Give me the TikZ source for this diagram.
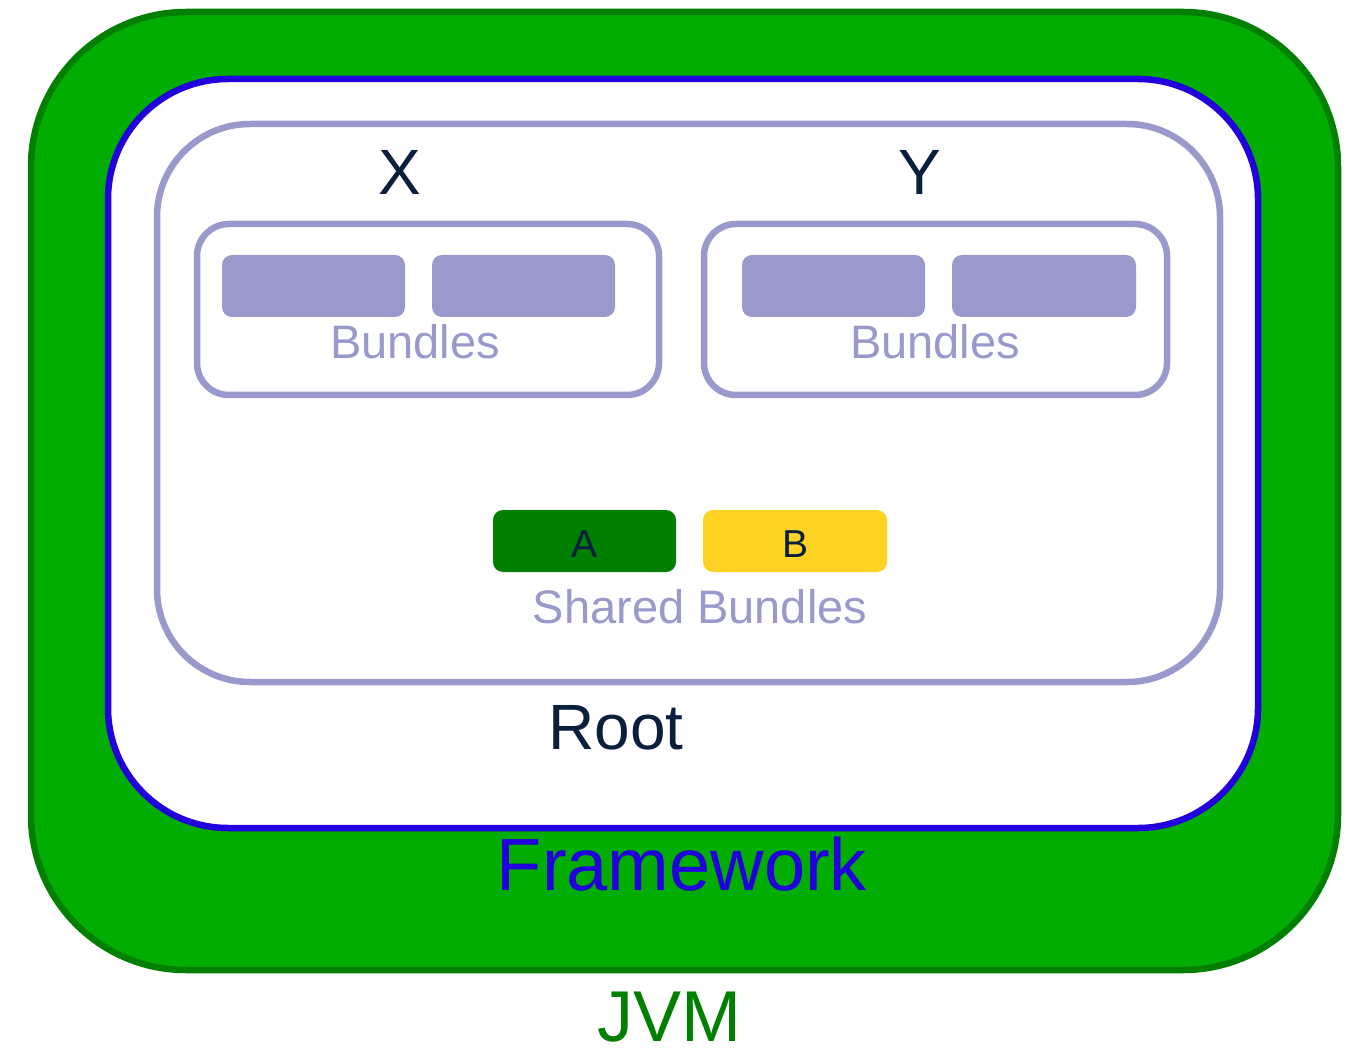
\documentclass[tikz,border=0pt]{standalone}
\usepackage{fontspec}
\setmainfont{Liberation Sans}
\definecolor{jvmfill}{HTML}{00AD00}
\definecolor{jvmline}{HTML}{007F00}
\definecolor{fwline}{HTML}{2200DD}
\definecolor{lav}{HTML}{9999CC}
\definecolor{ink}{HTML}{0A1F3D}
\definecolor{bgold}{HTML}{FFD323}
\tikzset{
  box/.style={rectangle, inner sep=0pt, line width=6.5pt},
  slot/.style={rectangle, inner sep=0pt, fill=lav, rounded corners=10pt,
               minimum height=62pt},
  lbl/.style={inner sep=0pt, anchor=base},
}
\begin{document}
\begin{tikzpicture}[x=1pt, y=-1pt]
\useasboundingbox (0,0) rectangle (1347,1048);
% JVM
\node[box, draw=jvmline, fill=jvmfill, rounded corners=155pt,
      minimum width=1307pt, minimum height=958pt] (jvm) at (684.5,491) {};
% Framework
\node[box, draw=fwline, fill=white, rounded corners=120pt,
      minimum width=1150pt, minimum height=749pt] (fw) at (683,453.5) {};
% Root
\node[box, draw=lav, fill=white, rounded corners=93pt,
      minimum width=1063pt, minimum height=558pt] (root) at (688.5,403) {};
% Bundle groups X and Y
\node[box, draw=lav, fill=white, rounded corners=32pt,
      minimum width=462pt, minimum height=171pt] (xbox) at (428,309.5) {};
\node[box, draw=lav, fill=white, rounded corners=32pt,
      minimum width=463pt, minimum height=171pt] (ybox) at (935.5,309.5) {};
\node[slot, minimum width=183pt] (x1) at (313.5,286) {};
\node[slot, minimum width=183pt] (x2) at (523.5,286) {};
\node[slot, minimum width=183pt] (y1) at (833.5,286) {};
\node[slot, minimum width=184pt] (y2) at (1044,286) {};
% Shared bundles
\node[slot, fill=jvmline, minimum width=183pt] (sa) at (584.5,541) {};
\node[slot, fill=bgold, minimum width=184pt] (sb) at (795,541) {};
% Labels
\node[lbl, text=ink, font=\fontsize{64}{64}\selectfont] (xl) at (400,195) {X};
\node[lbl, text=ink, font=\fontsize{64}{64}\selectfont] (yl) at (920,195) {Y};
\node[lbl, text=lav, font=\fontsize{47}{47}\selectfont] (xb) at (415,359) {Bundles};
\node[lbl, text=lav, font=\fontsize{47}{47}\selectfont] (yb) at (935,359) {Bundles};
\node[lbl, text=ink, font=\fontsize{39}{39}\selectfont] (al) at (585,557) {A};
\node[lbl, text=ink, font=\fontsize{39}{39}\selectfont] (bl) at (795,557) {B};
\node[lbl, text=lav, font=\fontsize{47}{47}\selectfont] (shl) at (700,623) {Shared Bundles};
\node[lbl, text=ink, font=\fontsize{64}{64}\selectfont] (rl) at (616,749) {Root};
\node[lbl, text=fwline, font=\fontsize{74}{74}\selectfont] (fl) at (682,890) {Framework};
\node[lbl, text=jvmline, font=\fontsize{72}{72}\selectfont] (jl) at (669,1041) {JVM};
\end{tikzpicture}
\end{document}
